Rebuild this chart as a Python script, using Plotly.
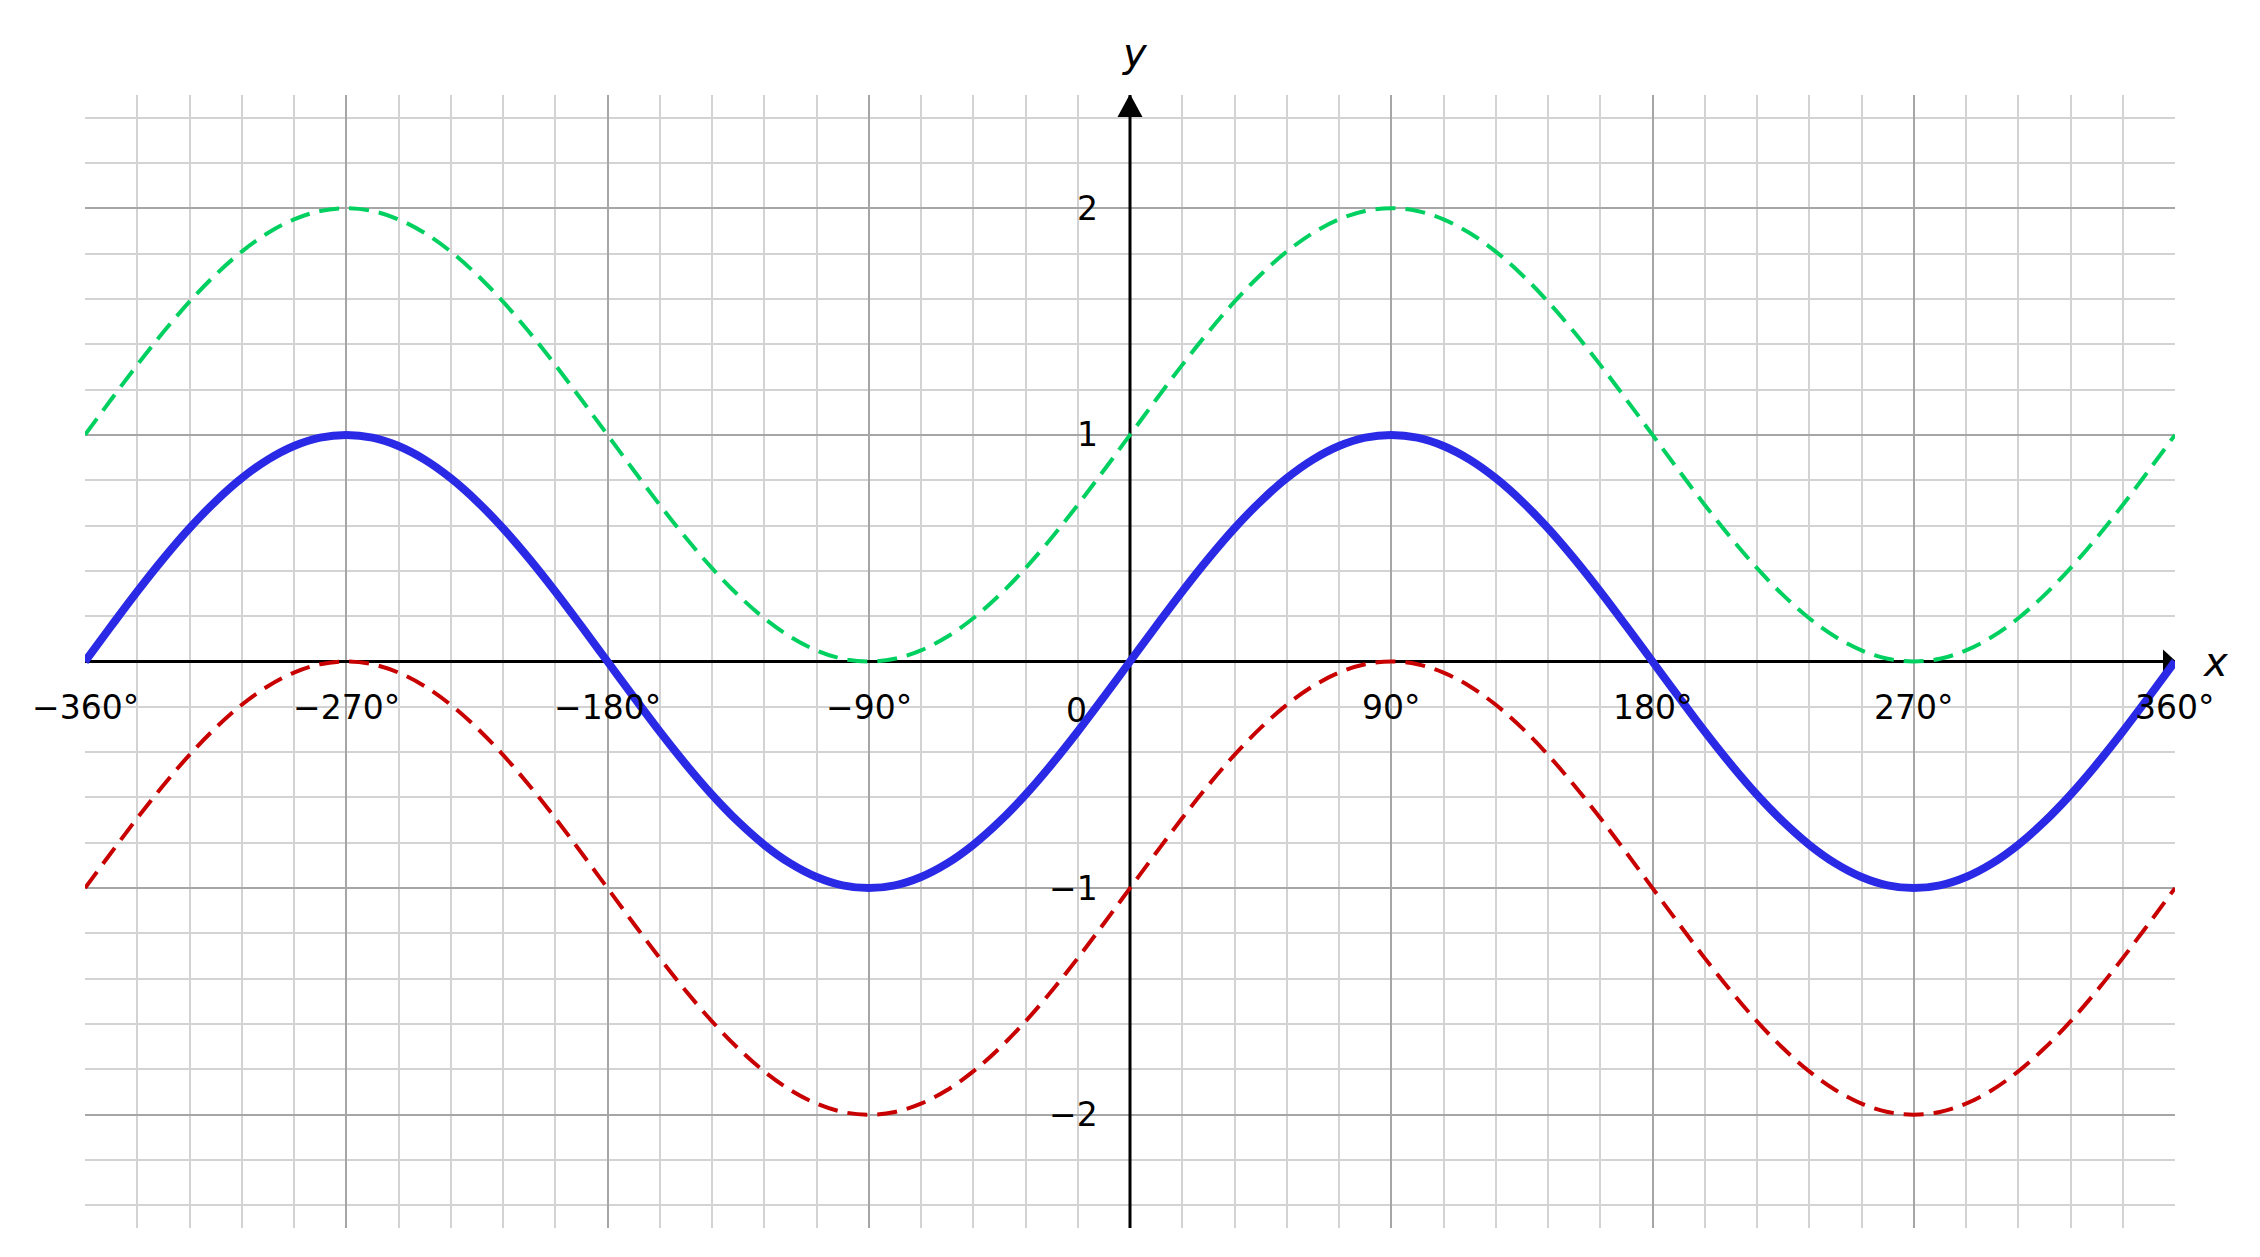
import plotly.graph_objects as go

###############################################################################
# Data

x_deg = [-360, -351, -342, -333, -324, -315, -306, -297, -288, -279,
         -270, -261, -252, -243, -234, -225, -216, -207, -198, -189,
         -180, -171, -162, -153, -144, -135, -126, -117, -108, -99,
         -90, -81, -72, -63, -54, -45, -36, -27, -18, -9,
         0, 9, 18, 27, 36, 45, 54, 63, 72, 81,
         90, 99, 108, 117, 126, 135, 144, 153, 162, 171,
         180, 189, 198, 207, 216, 225, 234, 243, 252, 261,
         270, 279, 288, 297, 306, 315, 324, 333, 342, 351, 360]

y_sin = [0, 0.156, 0.309, 0.454, 0.588, 0.707, 0.809, 0.891, 0.951, 0.988,
         1, 0.988, 0.951, 0.891, 0.809, 0.707, 0.588, 0.454, 0.309, 0.156,
         0, -0.156, -0.309, -0.454, -0.588, -0.707, -0.809, -0.891, -0.951, -0.988,
         -1, -0.988, -0.951, -0.891, -0.809, -0.707, -0.588, -0.454, -0.309, -0.156,
         0, 0.156, 0.309, 0.454, 0.588, 0.707, 0.809, 0.891, 0.951, 0.988,
         1, 0.988, 0.951, 0.891, 0.809, 0.707, 0.588, 0.454, 0.309, 0.156,
         0, -0.156, -0.309, -0.454, -0.588, -0.707, -0.809, -0.891, -0.951, -0.988,
         -1, -0.988, -0.951, -0.891, -0.809, -0.707, -0.588, -0.454, -0.309, -0.156, 0]

y_sin_plus1 = [1, 1.156, 1.309, 1.454, 1.588, 1.707, 1.809, 1.891, 1.951, 1.988,
               2, 1.988, 1.951, 1.891, 1.809, 1.707, 1.588, 1.454, 1.309, 1.156,
               1, 0.844, 0.691, 0.546, 0.412, 0.293, 0.191, 0.109, 0.049, 0.012,
               0, 0.012, 0.049, 0.109, 0.191, 0.293, 0.412, 0.546, 0.691, 0.844,
               1, 1.156, 1.309, 1.454, 1.588, 1.707, 1.809, 1.891, 1.951, 1.988,
               2, 1.988, 1.951, 1.891, 1.809, 1.707, 1.588, 1.454, 1.309, 1.156,
               1, 0.844, 0.691, 0.546, 0.412, 0.293, 0.191, 0.109, 0.049, 0.012,
               0, 0.012, 0.049, 0.109, 0.191, 0.293, 0.412, 0.546, 0.691, 0.844, 1]

y_sin_minus1 = [-1, -0.844, -0.691, -0.546, -0.412, -0.293, -0.191, -0.109, -0.049, -0.012,
                0, -0.012, -0.049, -0.109, -0.191, -0.293, -0.412, -0.546, -0.691, -0.844,
                -1, -1.156, -1.309, -1.454, -1.588, -1.707, -1.809, -1.891, -1.951, -1.988,
                -2, -1.988, -1.951, -1.891, -1.809, -1.707, -1.588, -1.454, -1.309, -1.156,
                -1, -0.844, -0.691, -0.546, -0.412, -0.293, -0.191, -0.109, -0.049, -0.012,
                0, -0.012, -0.049, -0.109, -0.191, -0.293, -0.412, -0.546, -0.691, -0.844,
                -1, -1.156, -1.309, -1.454, -1.588, -1.707, -1.809, -1.891, -1.951, -1.988,
                -2, -1.988, -1.951, -1.891, -1.809, -1.707, -1.588, -1.454, -1.309, -1.156, -1]

x_tick_vals = [-360, -270, -180, -90, 90, 180, 270, 360]
x_tick_text = ["\u2212360°", "\u2212270°", "\u2212180°", "\u221290°", "90°", "180°", "270°", "360°"]
y_tick_vals = [-2, -1, 1, 2]
y_tick_text = ["\u22122", "\u22121", "1", "2"]

###############################################################################
# Figure

FONT = "DejaVu Sans"

fig = go.Figure(
    data=[
        go.Scatter(
            x=x_deg, y=y_sin_plus1, mode="lines",
            line=dict(color="#00d060", width=4, dash="20px,10px", shape="spline"),
        ),
        go.Scatter(
            x=x_deg, y=y_sin_minus1, mode="lines",
            line=dict(color="#c80000", width=4, dash="20px,10px", shape="spline"),
        ),
        go.Scatter(
            x=x_deg, y=y_sin, mode="lines",
            line=dict(color="#2a2ae6", width=8, shape="spline"),
        ),
    ]
)

annotations = []
for v, t in zip(x_tick_vals, x_tick_text):
    annotations.append(dict(
        x=v, y=0, text=t, showarrow=False, xanchor="center", yanchor="middle",
        yshift=-46, font=dict(family=FONT, size=33, color="black"),
    ))
for v, t in zip(y_tick_vals, y_tick_text):
    annotations.append(dict(
        x=0, y=v, text=t, showarrow=False, xanchor="right", yanchor="middle",
        xshift=-30, font=dict(family=FONT, size=33, color="black"),
    ))
annotations.append(dict(
    x=0, y=0, text="0", showarrow=False, xanchor="right", yanchor="middle",
    xshift=-41, yshift=-49, font=dict(family=FONT, size=33, color="black"),
))
annotations.append(dict(
    x=0, y=2.5, text="<i>y</i>", showarrow=False, xanchor="center", yanchor="middle",
    xshift=5, yshift=42, font=dict(family=FONT, size=40, color="black"),
))
annotations.append(dict(
    x=360, y=0, text="<i>x</i>", showarrow=False, xanchor="center", yanchor="middle",
    xshift=40, yshift=0, font=dict(family=FONT, size=40, color="black"),
))

shapes = [
    # x axis
    dict(type="line", xref="x", yref="y", x0=-360, x1=360, y0=0, y1=0,
         line=dict(color="black", width=3), layer="between"),
    # y axis
    dict(type="line", xref="x", yref="y", x0=0, x1=0, y0=-2.5, y1=2.5,
         line=dict(color="black", width=3), layer="between"),
    # arrow heads
    dict(type="path", xref="x", yref="y", xsizemode="pixel", ysizemode="pixel",
         xanchor=0, yanchor=2.5, path="M-12.5,-22 L12.5,-22 L0,1 Z",
         fillcolor="black", line=dict(width=0), layer="between"),
    dict(type="path", xref="x", yref="y", xsizemode="pixel", ysizemode="pixel",
         xanchor=360, yanchor=0, path="M-12,12 L-12,-12 L1,0 Z",
         fillcolor="black", line=dict(width=0), layer="between"),
]

# the page body adds an 8px offset, so the figure is sized to fit inside it
fig.update_layout(
    width=2244,
    height=1241,
    margin=dict(l=77, r=77, t=87, b=21),
    showlegend=False,
    plot_bgcolor="white",
    paper_bgcolor="white",
    annotations=annotations,
    shapes=shapes,
    xaxis=dict(
        range=[-360, 360], tick0=0, dtick=90, showticklabels=False, ticks="",
        showgrid=True, gridcolor="#a6a6a6", gridwidth=2, zeroline=False, showline=False,
        minor=dict(tick0=0, dtick=18, showgrid=True, gridcolor="#d3d3d3", gridwidth=1.5),
    ),
    yaxis=dict(
        range=[-2.5, 2.5], tick0=0, dtick=1, showticklabels=False, ticks="",
        showgrid=True, gridcolor="#a6a6a6", gridwidth=2, zeroline=False, showline=False,
        minor=dict(tick0=0, dtick=0.2, showgrid=True, gridcolor="#d3d3d3", gridwidth=1.5),
    ),
)

fig.write_html("out.html")
